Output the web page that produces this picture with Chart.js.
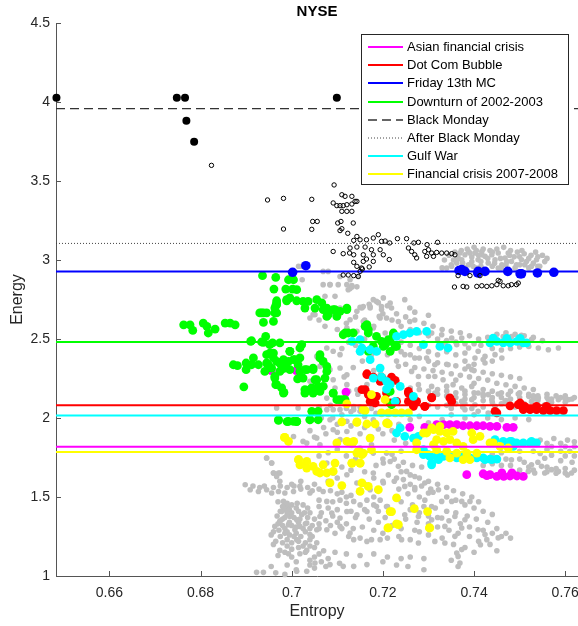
<!DOCTYPE html>
<html><head><meta charset="utf-8">
<script src="https://cdn.jsdelivr.net/npm/chart.js@4/dist/chart.umd.min.js"></script>
<style>html,body{margin:0;padding:0;background:#fff;overflow:hidden;}#wrap{width:578px;height:626px;overflow:hidden;}</style>
</head><body><div id="wrap"><canvas id="c" width="583" height="626"></canvas></div>
<script>
const chartTitle = 'NYSE';
const xTitle = 'Entropy';
const yTitle = 'Energy';
const xTicks = [0.66, 0.68, 0.70, 0.72, 0.74, 0.76];
const yTicks = [1, 1.5, 2, 2.5, 3, 3.5, 4, 4.5];
const xRange = [0.6483, 0.7628];
const yRange = [1, 4.5];

const eventNames = ['Asian financial crisis', 'Dot Com Bubble', 'Friday 13th MC', 'Downturn of 2002-2003',
  'Black Monday', 'After Black Monday', 'Gulf War', 'Financial crisis 2007-2008'];
const eventLevels = [1.818, 2.080, 2.928, 2.481, 3.958, 3.105, 2.016, 1.785];

const greyPts = [
[0.7015,2.960],[0.7022,2.960],[0.7023,2.875],[0.7069,2.928],[0.7080,2.928],[0.7069,2.844],[0.7084,2.844],[0.7102,2.844],[0.7121,2.844],[0.7132,2.838],[0.7143,2.830],[0.7128,2.820],[0.7073,2.770],[0.7095,2.770],[0.7157,2.706],[0.7179,2.749],[0.7197,2.706],
[0.7340,2.949],[0.7351,2.960],[0.7362,2.981],[0.7373,3.002],[0.7380,3.033],[0.7388,3.054],[0.7395,3.019],[0.7402,3.044],[0.7409,3.002],[0.7417,3.054],[0.7424,3.023],[0.7431,2.981],[0.7439,3.033],[0.7446,3.002],[0.7453,3.044],[0.7461,2.970],[0.7468,3.013],[0.7475,3.044],[0.7482,2.991],[0.7493,2.970],[0.7504,3.002],[0.7511,2.970],[0.7526,2.960],[0.7537,3.002],[0.7544,2.960],[0.7388,2.970],[0.7398,2.960],[0.7406,2.949],[0.7453,2.949],[0.7369,3.044],[0.7365,3.013],[0.7391,3.044],[0.7417,3.033],
[0.7345,3.03],[0.7355,3.00],[0.7375,2.98],[0.7385,3.07],[0.7400,3.08],[0.7420,3.07],[0.7435,3.06],[0.7450,3.07],[0.7465,3.08],[0.7480,3.06],[0.7495,3.05],[0.7510,3.04],[0.7525,3.03],[0.7540,3.02],[0.7555,2.99],[0.7530,2.98],[0.7515,2.99],[0.7500,3.02],[0.7488,3.02],[0.7472,2.99],[0.7445,2.98],[0.7430,3.01],[0.7410,3.03],[0.7395,2.99],[0.7365,3.01],[0.7350,2.97],[0.7330,2.95],[0.7460,2.95],[0.7490,2.95],[0.7520,2.95],
[0.7335,3.00],[0.7358,3.05],[0.7372,3.06],[0.7405,3.06],[0.7415,2.99],[0.7440,3.05],[0.7458,3.01],[0.7478,3.03],[0.7505,3.06],[0.7520,3.01],[0.7535,3.05],[0.7550,3.03],[0.7560,3.01],[0.7440,2.96],[0.7470,2.97],[0.7500,2.97],[0.7540,2.96],[0.7380,2.95],[0.7415,2.96],
[0.7084,2.844],[0.7106,2.896],[0.7128,2.875],[0.7146,2.896],[0.7124,2.812],[0.7132,2.829],[0.7186,2.738],[0.7201,2.760],[0.7216,2.728],[0.7248,2.749],[0.7154,2.696],[0.7172,2.706],[0.7080,2.654],[0.7047,2.654],[0.7192,2.643],
[0.7040,2.633],[0.7051,2.654],[0.7106,2.696],[0.7143,2.675],[0.7172,2.696],[0.7197,2.686],[0.7128,2.622],[0.7157,2.611],[0.7194,2.633],[0.7073,2.580],[0.7121,2.570],[0.7143,2.549],[0.7179,2.570],[0.7205,2.538],[0.7077,2.443],[0.7091,2.422],[0.7106,2.401],[0.7055,2.390],[0.7062,2.327],[0.7084,2.306],[0.7106,2.316],[0.7121,2.274],[0.7091,2.242],[0.7040,2.232],[0.7051,2.211],[0.7073,2.200],[0.7121,2.211],[0.7143,2.179],[0.7165,2.211],[0.7077,2.126],[0.7106,2.105],[0.7136,2.073],[0.6967,2.063],[0.7014,2.063],[0.7077,2.053],[0.7091,2.053],[0.7106,2.053],[0.7136,2.053],[0.7150,2.042],[0.7084,1.989],[0.7121,1.979],[0.7143,1.968],[0.7179,1.989],[0.7091,1.926],[0.7121,1.915],[0.7025,1.852],[0.7055,1.873],[0.7106,1.863],
[0.7004,1.883],[0.6945,1.747],[0.6956,1.715],[0.6960,1.652],[0.6971,1.652],[0.6974,1.599],
[0.7219,2.696],[0.7259,2.696],[0.7208,2.633],[0.7234,2.611],[0.7259,2.611],[0.7307,2.538],[0.7329,2.527],[0.7351,2.506],[0.7373,2.506],[0.7336,2.475],[0.7362,2.464],[0.7388,2.443],[0.7409,2.422],[0.7380,2.411],[0.7402,2.380],[0.7424,2.390],[0.7446,2.401],[0.7461,2.380],[0.7424,2.348],[0.7388,2.327],[0.7395,2.306],[0.7296,2.380],[0.7314,2.337],[0.7343,2.337],[0.7520,2.453],[0.7541,2.443],[0.7563,2.432],[0.7585,2.443],[0.7526,2.496],[0.7464,2.516],[0.7482,2.516],[0.7504,2.523],
[0.7227,2.443],[0.7248,2.401],[0.7270,2.380],[0.7234,2.327],[0.7263,2.295],[0.7278,2.263],[0.7300,2.263],[0.7314,2.263],[0.7332,2.242],[0.7354,2.211],[0.7278,2.211],[0.7307,2.200],[0.7373,2.190],[0.7395,2.200],
[0.7314,2.158],[0.7380,2.148],[0.7409,2.158],[0.7431,2.148],[0.7453,2.152],[0.7475,2.148],[0.7497,2.152],[0.7520,2.137],[0.7541,2.127],[0.7563,2.116],[0.7585,2.116],[0.7607,2.116],[0.7395,2.116],[0.7439,2.116],[0.7468,2.105],[0.7526,2.105],[0.7373,2.105],[0.7351,2.084],[0.7402,2.084],[0.7446,2.074],[0.7555,2.084],[0.7380,2.053],[0.7409,2.042],[0.7431,2.032],
[0.7500,2.13],[0.7530,2.14],[0.7560,2.13],[0.7590,2.13],[0.7615,2.12],[0.7600,2.10],[0.7570,2.10],[0.7540,2.11],[0.7480,2.12],[0.7460,2.13],[0.7440,2.13],[0.7420,2.14],[0.7400,2.13],[0.7380,2.12],[0.7360,2.13],[0.7340,2.14],[0.7320,2.15],[0.7350,2.06],[0.7375,2.07],[0.7395,2.06],[0.7420,2.07],[0.7460,2.09],[0.7510,2.09],[0.7490,2.07],
[0.7200,2.66],[0.7220,2.62],[0.7240,2.58],[0.7260,2.56],[0.7280,2.54],[0.7300,2.52],[0.7320,2.50],[0.7340,2.49],[0.7360,2.48],[0.7380,2.47],[0.7400,2.47],[0.7240,2.42],[0.7260,2.40],[0.7280,2.38],[0.7300,2.36],[0.7320,2.35],[0.7340,2.34],[0.7360,2.33],[0.7380,2.31],[0.7400,2.30],[0.7420,2.29],[0.7440,2.28],[0.7460,2.27],[0.7480,2.26],[0.7500,2.25],[0.7240,2.20],[0.7260,2.19],[0.7280,2.18],[0.7300,2.17],[0.7320,2.18],[0.7340,2.17],[0.7360,2.16],[0.7380,2.17],[0.7400,2.16],[0.7420,2.15],[0.7480,2.17],[0.7500,2.16],[0.7520,2.15],[0.7540,2.14],[0.7560,2.15],[0.7580,2.14],[0.7600,2.14],[0.7620,2.13],[0.7570,2.12],[0.7600,2.12],[0.7300,2.08],[0.7320,2.07],[0.7340,2.08],[0.7360,2.09],[0.7380,2.09],[0.7440,2.10],[0.7420,2.11],[0.7470,2.11],[0.7530,2.12],
[0.7453,1.736],[0.7482,1.736],[0.7526,1.704],[0.7548,1.694],[0.7570,1.673],[0.7600,1.652],[0.7614,1.652],[0.7533,1.652],[0.7555,1.652],[0.7585,1.662],[0.7519,1.662],
[0.7470,1.74],[0.7500,1.74],[0.7510,1.72],[0.7540,1.72],[0.7560,1.69],[0.7580,1.68],[0.7600,1.68],[0.7620,1.67],[0.7500,1.67],[0.7530,1.67],[0.7560,1.66],[0.7580,1.65],[0.7605,1.64],[0.7545,1.775],[0.7570,1.765],[0.7600,1.76],[0.7620,1.76],[0.7555,1.745],[0.7590,1.73],[0.7615,1.72],[0.7560,1.84],[0.7590,1.84],
[0.7420,1.70],[0.7440,1.71],[0.7460,1.70],[0.7480,1.70],[0.7520,1.69],[0.7440,1.77],[0.7460,1.78],[0.7500,1.79],[0.7530,1.79],[0.7560,1.80],[0.7590,1.79],[0.7610,1.79],[0.7570,1.82],[0.7600,1.82],[0.7620,1.82],
[0.7545,1.86],[0.7575,1.87],[0.7605,1.86],[0.7620,1.85],
[0.7216,1.725],[0.7234,1.694],[0.7252,1.662],[0.7270,1.630],[0.7292,1.589],[0.7248,1.567],[0.7270,1.546],[0.7300,1.525],[0.7322,1.546],[0.7329,1.472],[0.7351,1.472],[0.7373,1.472],[0.7391,1.472],[0.7219,1.399],[0.7248,1.388],[0.7278,1.377],[0.7307,1.356],[0.7329,1.367],[0.7358,1.377],[0.7380,1.356],[0.7336,1.314],[0.7373,1.304],[0.7409,1.293],[0.7424,1.262],[0.7453,1.241],[0.7241,1.230],[0.7278,1.209],[0.7314,1.219],[0.7336,1.209],[0.7358,1.251],[0.7373,1.167],[0.7365,1.124],[0.7292,1.480],[0.7307,1.440],
[0.7428,1.23],[0.7450,1.16],[0.7414,1.198],[0.7362,1.146],[0.7369,1.082],
[0.6945,1.747],[0.6956,1.715],[0.6960,1.652],[0.6974,1.652],[0.6967,1.630],[0.6898,1.578],[0.6909,1.546],[0.6927,1.535],[0.6945,1.546],[0.6956,1.525],[0.6971,1.535],[0.6985,1.525],[0.7004,1.535],[0.7018,1.567],[0.7040,1.525],[0.7069,1.535],[0.6982,1.472],[0.6993,1.440],[0.6978,1.408],[0.6996,1.377],[0.7011,1.356],[0.7022,1.388],[0.6974,1.346],[0.6993,1.325],[0.7018,1.314],[0.7033,1.335],[0.7007,1.293],[0.6963,1.314],[0.7040,1.262],[0.7011,1.230],[0.7055,1.293],[0.7077,1.293],[0.7062,1.377],[0.7088,1.399],[0.7106,1.367],[0.7121,1.408],[0.7143,1.388],[0.7165,1.408],[0.7186,1.440],[0.7208,1.440],[0.7077,1.472],[0.7106,1.480],[0.7136,1.472],[0.7165,1.480],[0.7194,1.480],[0.7106,1.314],[0.7136,1.230],[0.7165,1.219],[0.7194,1.230],[0.7128,1.272],[0.6974,1.162],[0.6993,1.141],[0.7018,1.141],[0.7033,1.162],[0.7051,1.082],[0.7084,1.072],[0.6923,1.023],[0.6938,1.023],[0.7011,1.030],[0.7033,1.030],[0.7113,1.061],[0.7136,1.061],[0.7165,1.072],[0.7091,1.652],[0.7121,1.641],[0.7077,1.715],[0.7179,1.652],[0.7201,1.715],[0.7179,1.778],[0.7208,1.778],[0.7033,1.842],[0.7062,1.831],[0.7201,1.589],[0.7143,1.589],[0.7172,1.546],
[0.6985,1.45],[0.6995,1.42],[0.7000,1.40],[0.6990,1.39],[0.7005,1.37],[0.6980,1.36],[0.7015,1.34],[0.6970,1.33],[0.7000,1.32],[0.7025,1.30],[0.6985,1.30],[0.6960,1.28],[0.7010,1.27],[0.7030,1.28],[0.6995,1.26],[0.6975,1.25],[0.7020,1.25],[0.7045,1.25],[0.6965,1.22],[0.7000,1.21],[0.7030,1.21],[0.7055,1.21],[0.6990,1.19],[0.7015,1.18],[0.7040,1.19],[0.6985,1.42],[0.7010,1.43],[0.7035,1.43],[0.7060,1.44],[0.7080,1.43],[0.7040,1.40],[0.7065,1.40],[0.7090,1.38],[0.7050,1.36],[0.7075,1.35],[0.7100,1.34],[0.7120,1.33],[0.7060,1.33],[0.7085,1.32],[0.7110,1.30],[0.7135,1.30],[0.7155,1.31],[0.7180,1.29],[0.7200,1.27],[0.7095,1.27],[0.7125,1.25],[0.7150,1.24],[0.7175,1.23],[0.7210,1.24],[0.7235,1.25],[0.7260,1.23],[0.7070,1.16],[0.7095,1.15],[0.7120,1.14],[0.7150,1.13],[0.7180,1.14],[0.7210,1.12],[0.7240,1.11],[0.7260,1.12],[0.7290,1.11],[0.7040,1.10],[0.7065,1.09],[0.7105,1.08],[0.7200,1.09],[0.7230,1.07],[0.7255,1.06],[0.7290,1.04],[0.6955,1.06],[0.6965,1.02],[0.6985,1.01],
[0.6970,1.47],[0.6980,1.44],[0.6990,1.46],[0.7000,1.45],[0.7012,1.46],[0.7025,1.45],[0.6975,1.41],[0.6990,1.41],[0.7015,1.41],[0.7028,1.40],[0.6968,1.38],[0.6985,1.37],[0.7018,1.36],[0.7035,1.37],[0.6975,1.35],[0.6995,1.34],[0.7030,1.33],[0.7045,1.32],[0.6980,1.32],[0.7010,1.31],[0.6972,1.29],[0.6990,1.28],[0.7040,1.30],[0.7060,1.30],[0.6985,1.27],[0.7005,1.25],[0.6955,1.26],[0.6990,1.23],[0.7015,1.22],[0.7040,1.23],[0.6980,1.21],[0.6960,1.20],[0.7025,1.19],[0.7050,1.18],[0.7000,1.17],[0.6985,1.15],[0.7030,1.15],[0.7060,1.14],[0.6970,1.13],[0.7000,1.12],[0.7050,1.12],[0.7080,1.11],[0.7010,1.09],[0.6990,1.07],[0.7040,1.07],[0.7075,1.06],[0.7010,1.04],[0.7050,1.05],
[0.6915,1.57],[0.6930,1.56],[0.6940,1.57],[0.6960,1.56],[0.6975,1.57],[0.6990,1.56],[0.7005,1.57],[0.7020,1.55],[0.7035,1.56],[0.7045,1.54],[0.7060,1.55],[0.7085,1.54],[0.7100,1.52],[0.7120,1.50],
[0.7060,1.48],[0.7090,1.47],[0.7120,1.46],[0.7150,1.45],[0.7100,1.42],[0.7130,1.41],[0.7160,1.42],[0.7180,1.45],[0.7140,1.37],[0.7170,1.36],[0.7190,1.34],[0.7220,1.32],[0.7240,1.30],[0.7270,1.29],[0.7260,1.42],[0.7280,1.40],[0.7300,1.38],[0.7320,1.37],[0.7345,1.35],[0.7370,1.33],[0.7390,1.31],[0.7420,1.29],[0.7440,1.27],[0.7460,1.25],[0.7480,1.24],[0.7340,1.50],[0.7360,1.48],[0.7380,1.45],[0.7400,1.43],[0.7420,1.41],[0.7440,1.39],[0.7310,1.53],[0.7260,1.58],[0.7245,1.61],[0.7270,1.56],
[0.7225,1.74],[0.7245,1.72],[0.7265,1.70],[0.7285,1.69],[0.7240,1.66],[0.7260,1.64],[0.7280,1.62],[0.7300,1.60],[0.7320,1.58],[0.7340,1.56],[0.7285,1.57],[0.7305,1.55],[0.7355,1.54],[0.7375,1.52],[0.7395,1.50],[0.7410,1.47],[0.7235,1.55],[0.7255,1.52],[0.7280,1.50],[0.7240,1.47],[0.7265,1.45],[0.7290,1.44],[0.7315,1.43],[0.7340,1.41],[0.7360,1.40],[0.7385,1.38],[0.7405,1.36],[0.7430,1.34],[0.7450,1.30],[0.7470,1.27],[0.7250,1.36],[0.7275,1.34],[0.7300,1.33],[0.7320,1.31],[0.7345,1.29],[0.7365,1.27],[0.7390,1.25],[0.7410,1.22],[0.7435,1.20],[0.7280,1.28],[0.7300,1.26],[0.7330,1.24],[0.7355,1.20],[0.7380,1.18],[0.7400,1.15],[0.7350,1.10],[0.7365,1.06],[0.7210,1.44],[0.7190,1.41],[0.7205,1.37],[0.7225,1.60],[0.7212,1.64],
[0.7060,1.76],[0.7080,1.78],[0.7100,1.80],[0.7120,1.76],[0.7140,1.74],[0.7110,1.69],[0.7130,1.67],[0.7160,1.66],[0.7185,1.70],[0.7200,1.74],[0.7220,1.77],[0.7240,1.79],[0.7180,1.62],[0.7200,1.60],[0.7230,1.62],[0.7160,1.58],[0.7100,1.62],[0.7080,1.60],[0.7050,1.58],[0.7020,1.60],[0.7000,1.58],[0.7110,1.53],[0.7130,1.51],[0.7180,1.50],[0.7050,1.88],[0.7075,1.90],[0.7100,1.91],[0.7150,1.90],[0.7175,1.88],[0.7200,1.90],[0.7225,1.86],[0.7250,1.84],[0.7175,1.83],[0.7150,1.81],
[0.7060,2.07],[0.7085,2.08],[0.7120,2.06],[0.7150,2.07],[0.7175,2.06],[0.7065,2.00],[0.7100,1.96],[0.7130,1.95],[0.7160,1.94],[0.7190,1.93],[0.7220,1.92],[0.7070,1.94],[0.7040,1.92],
[0.7230,2.66],[0.7250,2.64],[0.7270,2.62],[0.7290,2.60],[0.7310,2.58],[0.7330,2.56],[0.7270,2.67],[0.7300,2.65],[0.7350,2.55],[0.7370,2.54],[0.7390,2.52],[0.7410,2.50],[0.7430,2.51],[0.7450,2.53],[0.7470,2.54],[0.7490,2.53],[0.7510,2.52],[0.7530,2.51],[0.7550,2.49],[0.7415,2.46],[0.7440,2.44],[0.7460,2.43],[0.7480,2.44],[0.7500,2.45],[0.7420,2.37],[0.7440,2.36],[0.7400,2.34],[0.7380,2.36],[0.7360,2.40],[0.7340,2.42],[0.7320,2.40],[0.7300,2.42],[0.7280,2.44],[0.7260,2.46],[0.7240,2.48],[0.7210,2.40],[0.7190,2.42],[0.7230,2.36],[0.7250,2.34],[0.7270,2.32],[0.7290,2.31],[0.7310,2.30],[0.7330,2.29],[0.7350,2.28],[0.7370,2.27],[0.7390,2.26],[0.7410,2.25],[0.7430,2.24],[0.7450,2.22],[0.7470,2.21],[0.7490,2.20],[0.7510,2.19],[0.7530,2.18],[0.7360,2.24],[0.7400,2.22],[0.7340,2.20],[0.7420,2.18],[0.7440,2.17],[0.7460,2.16],[0.7180,2.58],[0.7160,2.62],[0.7140,2.64],[0.7120,2.60],[0.7100,2.56],[0.7060,2.62],[0.7085,2.66],[0.7150,2.70],[0.7170,2.72],[0.7190,2.73],[0.7210,2.71],[0.7125,2.48],[0.7140,2.46],[0.7110,2.44],[0.7160,2.50],[0.7175,2.40],[0.7155,2.36],[0.7135,2.32],[0.7180,2.30],[0.7195,2.28],[0.7115,2.26],[0.7095,2.19],[0.7125,2.17],[0.7145,2.15],[0.7090,2.00],[0.7110,2.02],[0.7130,2.04],[0.7160,2.01],[0.7185,2.03],[0.7210,1.98],[0.7235,1.96],[0.7260,1.99],[0.7280,2.01],[0.7300,1.97],[0.7330,1.99],[0.7350,2.02],[0.7380,2.00],[0.7400,2.02],[0.7430,2.00],[0.7460,1.99],[0.7490,2.00],[0.7520,1.99]
];

const greenPts = [
[0.6936,2.901],[0.6965,2.890],[0.6993,2.875],[0.6961,2.816],[0.6987,2.816],[0.7002,2.816],[0.6967,2.742],[0.6989,2.742],[0.7011,2.742],[0.6934,2.665],[0.6945,2.665],[0.6963,2.665],[0.6965,2.711],
[0.6763,2.590],[0.6777,2.590],[0.6783,2.554],[0.6806,2.601],[0.6814,2.580],[0.6817,2.538],[0.6832,2.563],[0.6854,2.601],[0.6865,2.601],[0.6876,2.590],[0.6938,2.665],[0.6938,2.605],[0.6960,2.611],[0.6967,2.665],[0.6967,2.728],[0.6989,2.749],
[0.6910,2.485],[0.6938,2.479],[0.6943,2.516],[0.6974,2.475],[0.6958,2.475],[0.6996,2.422],[0.6945,2.401],[0.6960,2.411],[0.6916,2.380],[0.6872,2.337],[0.6881,2.331],[0.6900,2.348],[0.6900,2.306],[0.6912,2.337],[0.6927,2.337],[0.6945,2.348],[0.6967,2.358],[0.6982,2.369],[0.6989,2.348],[0.7004,2.369],[0.6941,2.295],[0.6956,2.316],[0.6978,2.310],[0.6996,2.306],[0.6963,2.253],[0.6965,2.211],[0.6978,2.190],[0.6983,2.162],[0.6895,2.197],[0.7013,2.247],
[0.6971,1.985],[0.6990,1.977],[0.7011,1.977],
[0.6930,2.665],[0.6963,2.696],[0.6967,2.717],[0.7029,2.696],[0.7051,2.696],[0.7069,2.686],[0.7080,2.654],[0.7095,2.686],[0.7121,2.686],[0.7099,2.643],[0.7077,2.643],
[0.6912,2.489],[0.6934,2.481],[0.6952,2.464],[0.6952,2.411],[0.6960,2.380],[0.6949,2.337],[0.6974,2.348],[0.6993,2.358],[0.6996,2.422],[0.7018,2.443],[0.7022,2.464],[0.7018,2.380],[0.7033,2.306],[0.7018,2.295],[0.6985,2.316],[0.6974,2.295],[0.6963,2.263],[0.6967,2.211],[0.6982,2.158],[0.7047,2.316],[0.7073,2.253],[0.7051,2.242],[0.7058,2.200],[0.7044,2.190],[0.7029,2.158],[0.7047,2.158],[0.7062,2.168],[0.7077,2.295],[0.7091,2.158],[0.7099,2.116],[0.7113,2.116],[0.7044,2.042],[0.7058,2.042],[0.6971,1.989],[0.6993,1.979],[0.7011,1.979],[0.7040,1.989],[0.7058,1.989],
[0.7113,2.527],[0.7124,2.538],[0.7165,2.591],[0.7168,2.559],[0.7197,2.485],[0.7205,2.464],[0.7062,2.401],[0.7069,2.358],[0.7077,2.327],
[0.7011,2.812],[0.7025,2.738],[0.7036,2.738],[0.7055,2.749],[0.7066,2.728],[0.7077,2.696],[0.7091,2.686],[0.7106,2.675],[0.7121,2.696],[0.6996,2.760],[0.7004,2.875],
[0.7223,2.527],[0.7212,2.496],[0.7227,2.453],[0.7216,2.422],[0.7216,2.168],[0.7219,2.084],
[0.7117,2.538],[0.7135,2.538],[0.7161,2.580],[0.7168,2.538],[0.7186,2.516],[0.7216,2.485],[0.7179,2.453],[0.7168,2.422],[0.7223,2.538],[0.7230,2.453],[0.7201,2.453],
[0.7007,2.369],[0.7014,2.337],[0.7029,2.306],[0.7047,2.306],[0.7062,2.380],[0.7055,2.242],[0.7069,2.200],[0.7040,2.179],[0.7029,2.179],[0.7091,2.158],[0.7106,2.116],[0.7117,2.116],[0.7025,2.253],[0.7040,1.989],[0.7004,1.979]
];

const magentaPts = [
[0.6955,2.300],[0.7010,2.300],[0.7119,2.164],
[0.7259,1.941],[0.7292,1.941],[0.7318,1.958],[0.7333,1.958],[0.7347,1.958],[0.7362,1.958],[0.7376,1.951],[0.7391,1.951],[0.7406,1.951],[0.7420,1.951],[0.7435,1.947],[0.7450,1.947],[0.7472,1.941],[0.7486,1.941],
[0.7384,1.641],[0.7420,1.647],[0.7435,1.641],[0.7450,1.630],[0.7465,1.630],[0.7479,1.633],[0.7494,1.633],[0.7508,1.630],[0.7461,1.652],[0.7483,1.652],[0.7428,1.635]
];

const redPts = [
[0.7165,2.280],[0.7179,2.259],[0.7194,2.242],[0.7201,2.242],[0.7219,2.259],[0.7227,2.238],[0.7154,2.179],[0.7168,2.148],[0.7179,2.116],[0.7186,2.137],[0.7208,2.158],[0.7230,2.105],[0.7216,2.095],[0.7256,2.168],[0.7256,2.105],[0.7267,2.074],[0.7274,2.105],[0.7292,2.074],[0.7307,2.131],[0.7347,2.127],[0.7351,2.105],
[0.7450,2.032],[0.7479,2.077],[0.7497,2.084],[0.7508,2.053],[0.7523,2.053],[0.7537,2.053],[0.7552,2.047],[0.7567,2.047],[0.7581,2.047],[0.7596,2.047],[0.7511,2.074],[0.7537,2.074],[0.7559,2.074],[0.7501,2.095],
[0.7446,2.042],[0.7307,2.127],[0.7292,2.074],[0.7270,2.105],[0.7256,2.158],
[0.7165,2.274],[0.7197,2.257],[0.7194,2.232],[0.7161,2.179],[0.7172,2.105],[0.7183,2.095]
];

const bluePts = [
[0.7031,2.964],[0.7002,2.922],[0.7373,2.939],[0.7367,2.934],[0.7380,2.928],[0.7409,2.928],[0.7424,2.928],[0.7474,2.928],[0.7501,2.913],[0.7539,2.918],[0.7575,2.922],[0.7408,2.918],[0.7504,2.913]
];

const cyanPts = [
[0.7132,2.485],[0.7150,2.496],[0.7154,2.443],[0.7150,2.422],[0.7172,2.432],[0.7186,2.422],[0.7172,2.369],[0.7230,2.516],[0.7245,2.527],[0.7259,2.538],[0.7274,2.548],[0.7296,2.548],[0.7289,2.464],[0.7325,2.453],[0.7343,2.443],
[0.7435,2.475],[0.7450,2.485],[0.7464,2.475],[0.7479,2.475],[0.7494,2.485],[0.7508,2.475],[0.7515,2.475],[0.7442,2.506],[0.7472,2.504],[0.7501,2.504],
[0.7194,2.316],[0.7179,2.253],[0.7197,2.259],[0.7208,2.232],[0.7216,2.211],[0.7208,2.183],[0.7238,2.200],[0.7227,2.105],[0.7267,2.137],
[0.7238,1.937],[0.7248,1.884],[0.7267,1.873],[0.7278,1.884],[0.7230,1.905],[0.7289,1.799],[0.7289,1.768],[0.7303,1.757],[0.7318,1.757],[0.7307,1.715],[0.7333,1.757],[0.7347,1.757],[0.7362,1.747],[0.7376,1.757],[0.7391,1.747],[0.7406,1.747],[0.7420,1.747],[0.7435,1.740],[0.7450,1.740],
[0.7464,1.852],[0.7479,1.852],[0.7493,1.842],[0.7508,1.842],[0.7523,1.842],[0.7537,1.842],[0.7486,1.820],
[0.7300,1.768],[0.7307,1.704],[0.7322,1.736],[0.7424,1.736],[0.7439,1.736],[0.7446,1.863],[0.7482,1.852],[0.7526,1.852]
];

const yellowPts = [
[0.6984,1.877],[0.6993,1.852],[0.7015,1.736],
[0.7175,2.148],[0.7121,2.090],[0.7205,2.116],[0.7161,2.047],[0.7197,2.032],[0.7110,1.975],[0.7143,1.975],[0.7165,1.962],[0.7183,1.962],[0.7208,1.968],[0.6985,1.877],[0.7099,1.842],[0.7121,1.852],[0.7136,1.852],[0.7172,1.873],
[0.7157,2.053],[0.7212,2.032],[0.7227,2.032],[0.7241,2.032],[0.7256,2.032],[0.7143,1.972],[0.7212,1.963],
[0.7128,1.842],[0.7146,1.789],[0.7154,1.768],[0.7132,1.715],[0.7150,1.715],[0.7175,1.799],
[0.7274,1.842],[0.7296,1.905],[0.7311,1.926],[0.7325,1.915],[0.7340,1.905],[0.7354,1.915],[0.7318,1.863],[0.7333,1.852],[0.7347,1.863],[0.7362,1.842],[0.7376,1.820],[0.7395,1.905],[0.7398,1.863],[0.7413,1.884],[0.7435,1.842],[0.7442,1.842],[0.7318,1.799],[0.7340,1.789],[0.7362,1.778],[0.7384,1.778],[0.7406,1.778],[0.7347,1.747],[0.7376,1.736],[0.7391,1.736],[0.7311,1.831],[0.7274,1.799],[0.7289,1.905],[0.7307,1.937],[0.7325,1.947],[0.7457,1.820],[0.7475,1.810],
[0.7015,1.736],[0.7018,1.704],[0.7033,1.683],[0.7047,1.694],[0.7033,1.725],[0.7055,1.662],[0.7069,1.704],[0.7062,1.652],[0.7077,1.652],[0.7091,1.662],[0.7095,1.715],[0.7084,1.589],[0.7110,1.572],[0.7132,1.715],[0.7150,1.715],[0.7143,1.778],[0.7157,1.778],[0.7154,1.589],[0.7168,1.567],[0.7150,1.535],[0.7190,1.546],[0.7216,1.408],[0.7212,1.304],[0.7132,1.837],
[0.7230,1.494],[0.7219,1.408],[0.7269,1.426],[0.7298,1.408],[0.7234,1.325],[0.7303,1.304],[0.7230,1.330],[0.7211,1.304],[0.7302,1.304]
];

const blackMondayPts = [
[0.6484,4.027],[0.6748,4.027],[0.6766,4.027],[0.6769,3.882],[0.6786,3.748],[0.7099,4.027]
];

const afterBlackMondayPts = [
[0.7044,3.384],[0.6824,3.599],[0.6947,3.380],[0.6982,3.390],[0.6982,3.196],[0.7044,3.194],[0.7046,3.244],[0.7056,3.244],[0.7093,3.475],
[0.7110,3.413],[0.7117,3.403],[0.7132,3.403],[0.7139,3.371],[0.7091,3.361],[0.7099,3.344],[0.7106,3.344],[0.7113,3.344],[0.7121,3.350],[0.7132,3.354],[0.7110,3.308],[0.7121,3.308],[0.7132,3.308],[0.7143,3.371],
[0.7101,3.234],[0.7108,3.244],[0.7135,3.234],[0.7106,3.186],[0.7110,3.198],[0.7123,3.169],
[0.7143,3.149],[0.7136,3.124],[0.7150,3.128],[0.7164,3.128],[0.7179,3.139],[0.7190,3.160],[0.7197,3.118],[0.7128,3.076],[0.7143,3.082],[0.7161,3.082],[0.7175,3.065],[0.7194,3.065],[0.7091,3.054],[0.7113,3.040],[0.7127,3.044],[0.7136,3.033],[0.7157,3.033],[0.7179,3.033],[0.7201,3.033],[0.7164,3.006],[0.7136,2.985],[0.7157,2.991],[0.7179,2.991],[0.7153,2.949],[0.7143,2.960],[0.7170,2.956],[0.7113,2.905],[0.7124,2.905],[0.7136,2.901],[0.7146,2.896],[0.7150,2.928],[0.7155,2.943],
[0.7232,3.135],[0.7252,3.135],[0.7268,3.108],[0.7278,3.112],[0.7297,3.097],[0.7320,3.112],[0.7205,3.120],[0.7215,3.108],[0.7214,3.003],
[0.7292,3.054],[0.7300,3.065],[0.7307,3.044],[0.7318,3.048],[0.7329,3.044],[0.7340,3.044],[0.7351,3.040],[0.7358,3.033],[0.7296,3.023],[0.7311,3.023],[0.7270,3.033],[0.7263,3.054],[0.7274,3.013],[0.7256,3.076],
[0.7365,2.901],[0.7391,2.901],[0.7413,2.901],[0.7357,2.829],[0.7376,2.833],[0.7384,2.829],[0.7406,2.833],[0.7417,2.837],[0.7428,2.833],[0.7439,2.837],[0.7450,2.844],[0.7457,2.865],[0.7464,2.837],[0.7475,2.837],[0.7482,2.844],[0.7493,2.844],[0.7497,2.854],[0.7453,2.871]
];

const eventStyles = [
  {color:'#ff00ff', width:2, dash:[]},
  {color:'#ff0000', width:2, dash:[]},
  {color:'#0000ff', width:2, dash:[]},
  {color:'#00ff00', width:2, dash:[]},
  {color:'#333333', width:1.3, dash:[9,5]},
  {color:'#444444', width:1, dash:[1,2]},
  {color:'#00ffff', width:2, dash:[]},
  {color:'#ffff00', width:2, dash:[]}
];

const toXY = arr => arr.map(p => ({x: p[0], y: p[1]}));
const FONT = '"Liberation Sans", Arial, sans-serif';

function pts(label, arr, color, r, order, extra) {
  return Object.assign({type:'scatter', label, data: toXY(arr), backgroundColor: color, borderColor: color,
    borderWidth: 0, pointRadius: r, pointHoverRadius: r, order, clip: false}, extra || {});
}

const datasets = [
  pts('grey', greyPts, '#bebebe', 2.8, 100),
  pts('magenta', magentaPts, '#ff00ff', 4.4, 60),
  pts('red', redPts, '#ff0000', 4.4, 55),
  pts('green', greenPts, '#00ff00', 4.4, 50),
  pts('cyan', cyanPts, '#00ffff', 4.4, 45),
  pts('yellow', yellowPts, '#ffff00', 4.4, 40),
  pts('blue', bluePts, '#0000ff', 4.8, 35),
  pts('black', blackMondayPts, '#000000', 4, 10),
  pts('afterBM', afterBlackMondayPts, 'rgba(0,0,0,0)', 2.2, 15, {borderColor:'#000000', borderWidth:1})
];
eventLevels.forEach((lvl, i) => {
  const s = eventStyles[i];
  datasets.push({type:'line', label: eventNames[i], data:[{x:xRange[0], y:lvl},{x:xRange[1], y:lvl}],
    borderColor: s.color, borderWidth: s.width, borderDash: s.dash, pointRadius: 0, fill:false, order: 20 - i});
});

const decor = {
  id: 'decor',
  afterDraw(chart) {
    const ctx = chart.ctx, ca = chart.chartArea;
    const xs = chart.scales.x, ys = chart.scales.y;
    ctx.save();
    ctx.strokeStyle = '#555'; ctx.lineWidth = 1;
    xs.ticks.forEach(t => { const px = Math.round(xs.getPixelForValue(t.value)) + 0.5;
      ctx.beginPath(); ctx.moveTo(px, ca.bottom); ctx.lineTo(px, ca.bottom - 5); ctx.stroke(); });
    ys.ticks.forEach(t => { const py = Math.round(ys.getPixelForValue(t.value)) + 0.5;
      ctx.beginPath(); ctx.moveTo(ca.left, py); ctx.lineTo(ca.left + 5, py); ctx.stroke(); });
    ctx.fillStyle = '#000'; ctx.textAlign = 'center'; ctx.textBaseline = 'middle';
    ctx.font = 'bold 15px ' + FONT;
    ctx.fillText(chartTitle, (ca.left + ca.right) / 2, 12);
    ctx.fillStyle = '#262626';
    ctx.font = '16px ' + FONT;
    ctx.fillText(xTitle, (ca.left + ca.right) / 2, 612);
    ctx.save(); ctx.translate(18, (ca.top + ca.bottom) / 2); ctx.rotate(-Math.PI / 2);
    ctx.fillText(yTitle, 0, 0); ctx.restore();
    const bx = 361.5, by = 34.5, bw = 207, bh = 150;
    ctx.fillStyle = '#fff'; ctx.fillRect(bx, by, bw, bh);
    ctx.strokeStyle = '#262626'; ctx.lineWidth = 1; ctx.strokeRect(bx, by, bw, bh);
    ctx.font = '13px ' + FONT; ctx.textAlign = 'left'; ctx.fillStyle = '#000';
    eventNames.forEach((name, i) => {
      const y = 47 + i * 18.2, s = eventStyles[i];
      ctx.beginPath(); ctx.setLineDash(s.dash); ctx.strokeStyle = s.color; ctx.lineWidth = s.width;
      ctx.moveTo(368, Math.round(y)); ctx.lineTo(403, Math.round(y)); ctx.stroke(); ctx.setLineDash([]);
      ctx.fillText(name, 407, y + 0.5);
    });
    ctx.restore();
  }
};

new Chart(document.getElementById('c'), {
  data: { datasets },
  options: {
    responsive: false, animation: false, devicePixelRatio: 1,
    layout: { padding: { top: 23, left: 0, right: 5, bottom: 0 } },
    plugins: { legend: { display: false }, tooltip: { enabled: false }, title: { display: false } },
    scales: {
      x: { type: 'linear', min: xRange[0], max: xRange[1],
        afterBuildTicks: s => { s.ticks = xTicks.map(v => ({ value: v })); },
        afterFit: s => { s.height = 50; s.paddingLeft = 0; s.paddingRight = 0; },
        grid: { display: false, tickLength: 0, drawTicks: false }, border: { display: true, color: '#555', width: 1 },
        ticks: { autoSkip: false, maxRotation: 0, padding: 9, color: '#262626', font: { family: FONT, size: 14 },
          callback: v => String(+(+v).toFixed(2)) } },
      y: { type: 'linear', min: yRange[0], max: yRange[1],
        afterBuildTicks: s => { s.ticks = yTicks.map(v => ({ value: v })); },
        afterFit: s => { s.width = 56; s.paddingTop = 0; s.paddingBottom = 0; },
        grid: { display: false, tickLength: 0, drawTicks: false }, border: { display: true, color: '#555', width: 1 },
        ticks: { autoSkip: false, padding: 6, color: '#262626', font: { family: FONT, size: 14 },
          callback: v => String(+(+v).toFixed(2)) } }
    }
  },
  plugins: [decor]
});
</script></body></html>
